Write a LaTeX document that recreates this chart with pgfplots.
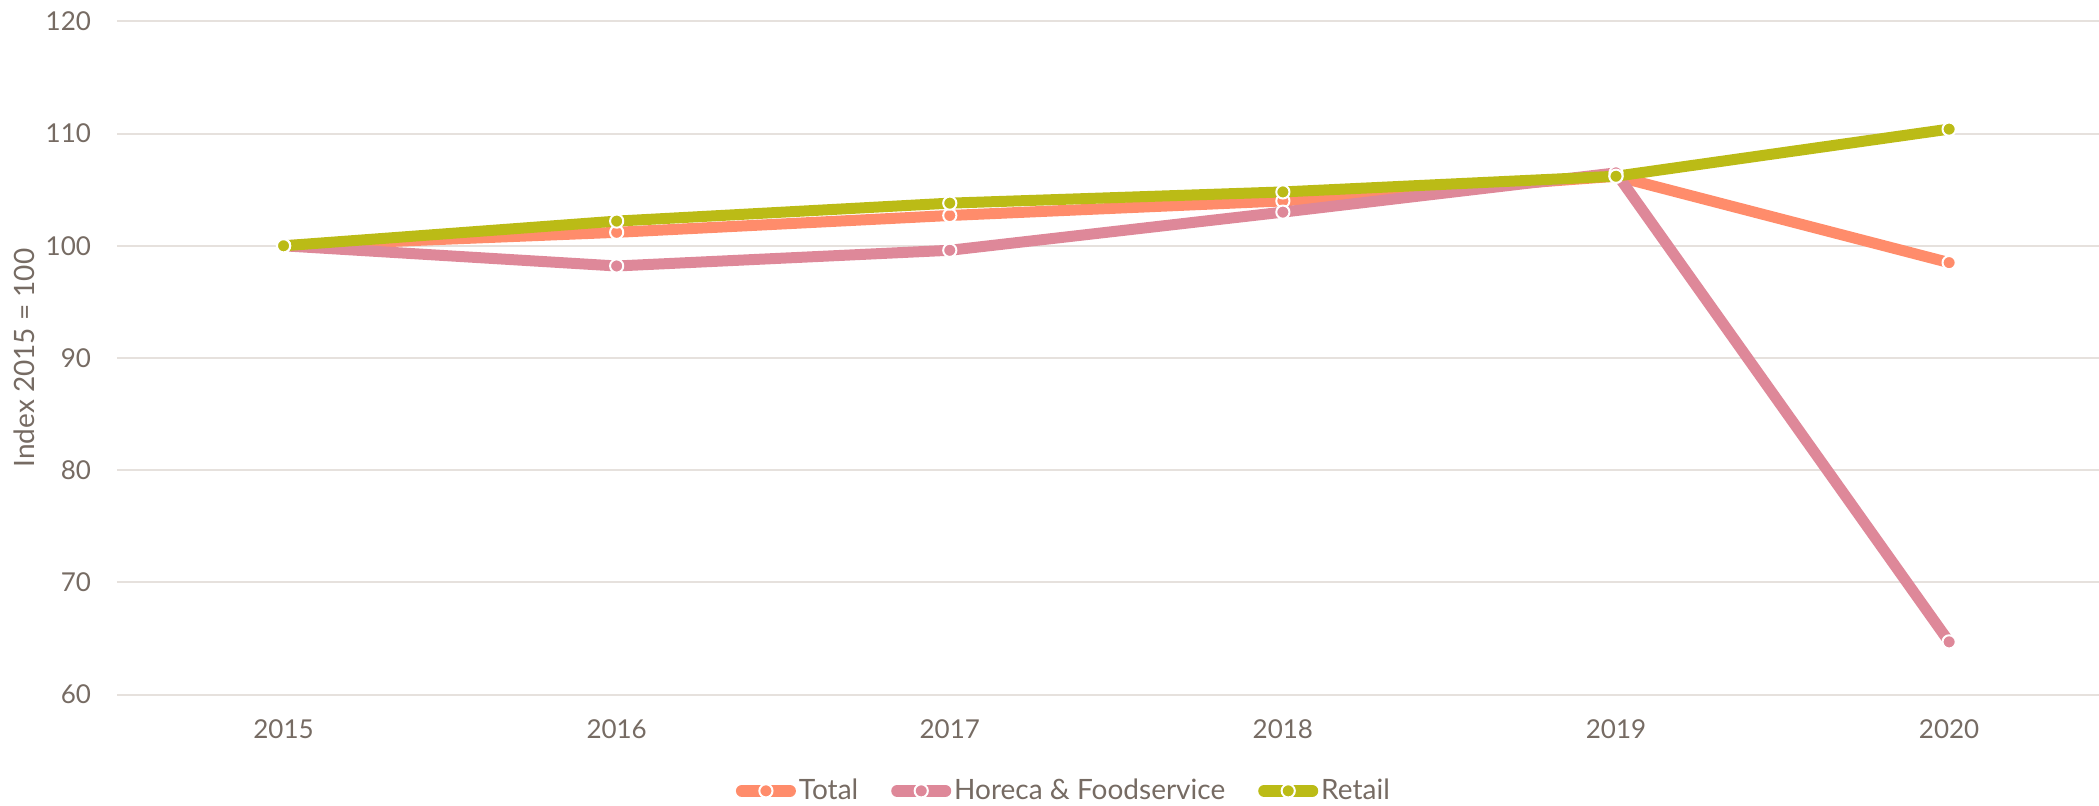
\documentclass[border=0pt]{standalone}
\usepackage{pgfplots}
\pgfplotsset{compat=1.18}
\usepackage{fontspec}
\setmainfont{Lato}
\definecolor{cTotal}{HTML}{FF8C6B}
\definecolor{cHoreca}{HTML}{DE8899}
\definecolor{cRetail}{HTML}{BBBB16}
\definecolor{ctext}{HTML}{766B63}
\definecolor{cgrid}{HTML}{E6E1DD}
\begin{document}
\begin{tikzpicture}
\path[use as bounding box] (-58.5pt,-55.65pt) rectangle (991pt,347.3pt);
\begin{axis}[
  at={(0,0)}, anchor=south west,
  width=991pt, height=336.6pt, scale only axis,
  xmin=-0.5, xmax=5.45, ymin=60, ymax=120,
  xtick={0,1,2,3,4,5}, xticklabels={2015,2016,2017,2018,2019,2020},
  ytick={60,70,80,90,100,110,120},
  ymajorgrids, grid style={cgrid, line width=1pt},
  axis line style={draw=none}, major tick length=0pt,
  tick label style={font=\fontsize{13}{15}\selectfont, text=ctext},
  /pgf/number format/assume math mode=true,
  xticklabel style={yshift=-9pt},
  yticklabel style={xshift=-9.5pt},
  ylabel={Index 2015 = 100},
  every axis y label/.style={at={(axis description cs:-0.047,0.5)}, rotate=90, anchor=center, font=\fontsize{14}{16}\selectfont, text=ctext},
  legend columns=3,
  legend style={at={(axis description cs:0.478,-0.143)}, anchor=center, draw=none, fill=none,
    font=\fontsize{14}{16}\selectfont, text=ctext, inner xsep=0pt,
    nodes={inner xsep=1.5pt},
    /tikz/every even column/.append style={column sep=15pt}},
  legend cell align=left,
  legend image code/.code={\draw[mark repeat=2,mark phase=2,#1, line width=6pt, line cap=round] plot coordinates {(3pt,0pt) (15pt,0pt) (27pt,0pt)};},
  every axis plot/.append style={line width=5.5pt, line cap=round, line join=round},
]
\addplot[cTotal, mark=*, mark size=3.3pt, mark options={fill=cTotal, draw=white, line width=1pt}]
  coordinates {(0,100) (1,101.2) (2,102.7) (3,104.0) (4,106.2) (5,98.5)};
\addlegendentry{Total}
\addplot[cHoreca, mark=*, mark size=3.3pt, mark options={fill=cHoreca, draw=white, line width=1pt}]
  coordinates {(0,100) (1,98.2) (2,99.6) (3,103.0) (4,106.5) (5,64.7)};
\addlegendentry{Horeca \& Foodservice}
\addplot[cRetail, mark=*, mark size=3.3pt, mark options={fill=cRetail, draw=white, line width=1pt}]
  coordinates {(0,100) (1,102.2) (2,103.8) (3,104.8) (4,106.2) (5,110.4)};
\addlegendentry{Retail}
\end{axis}
\end{tikzpicture}
\end{document}
